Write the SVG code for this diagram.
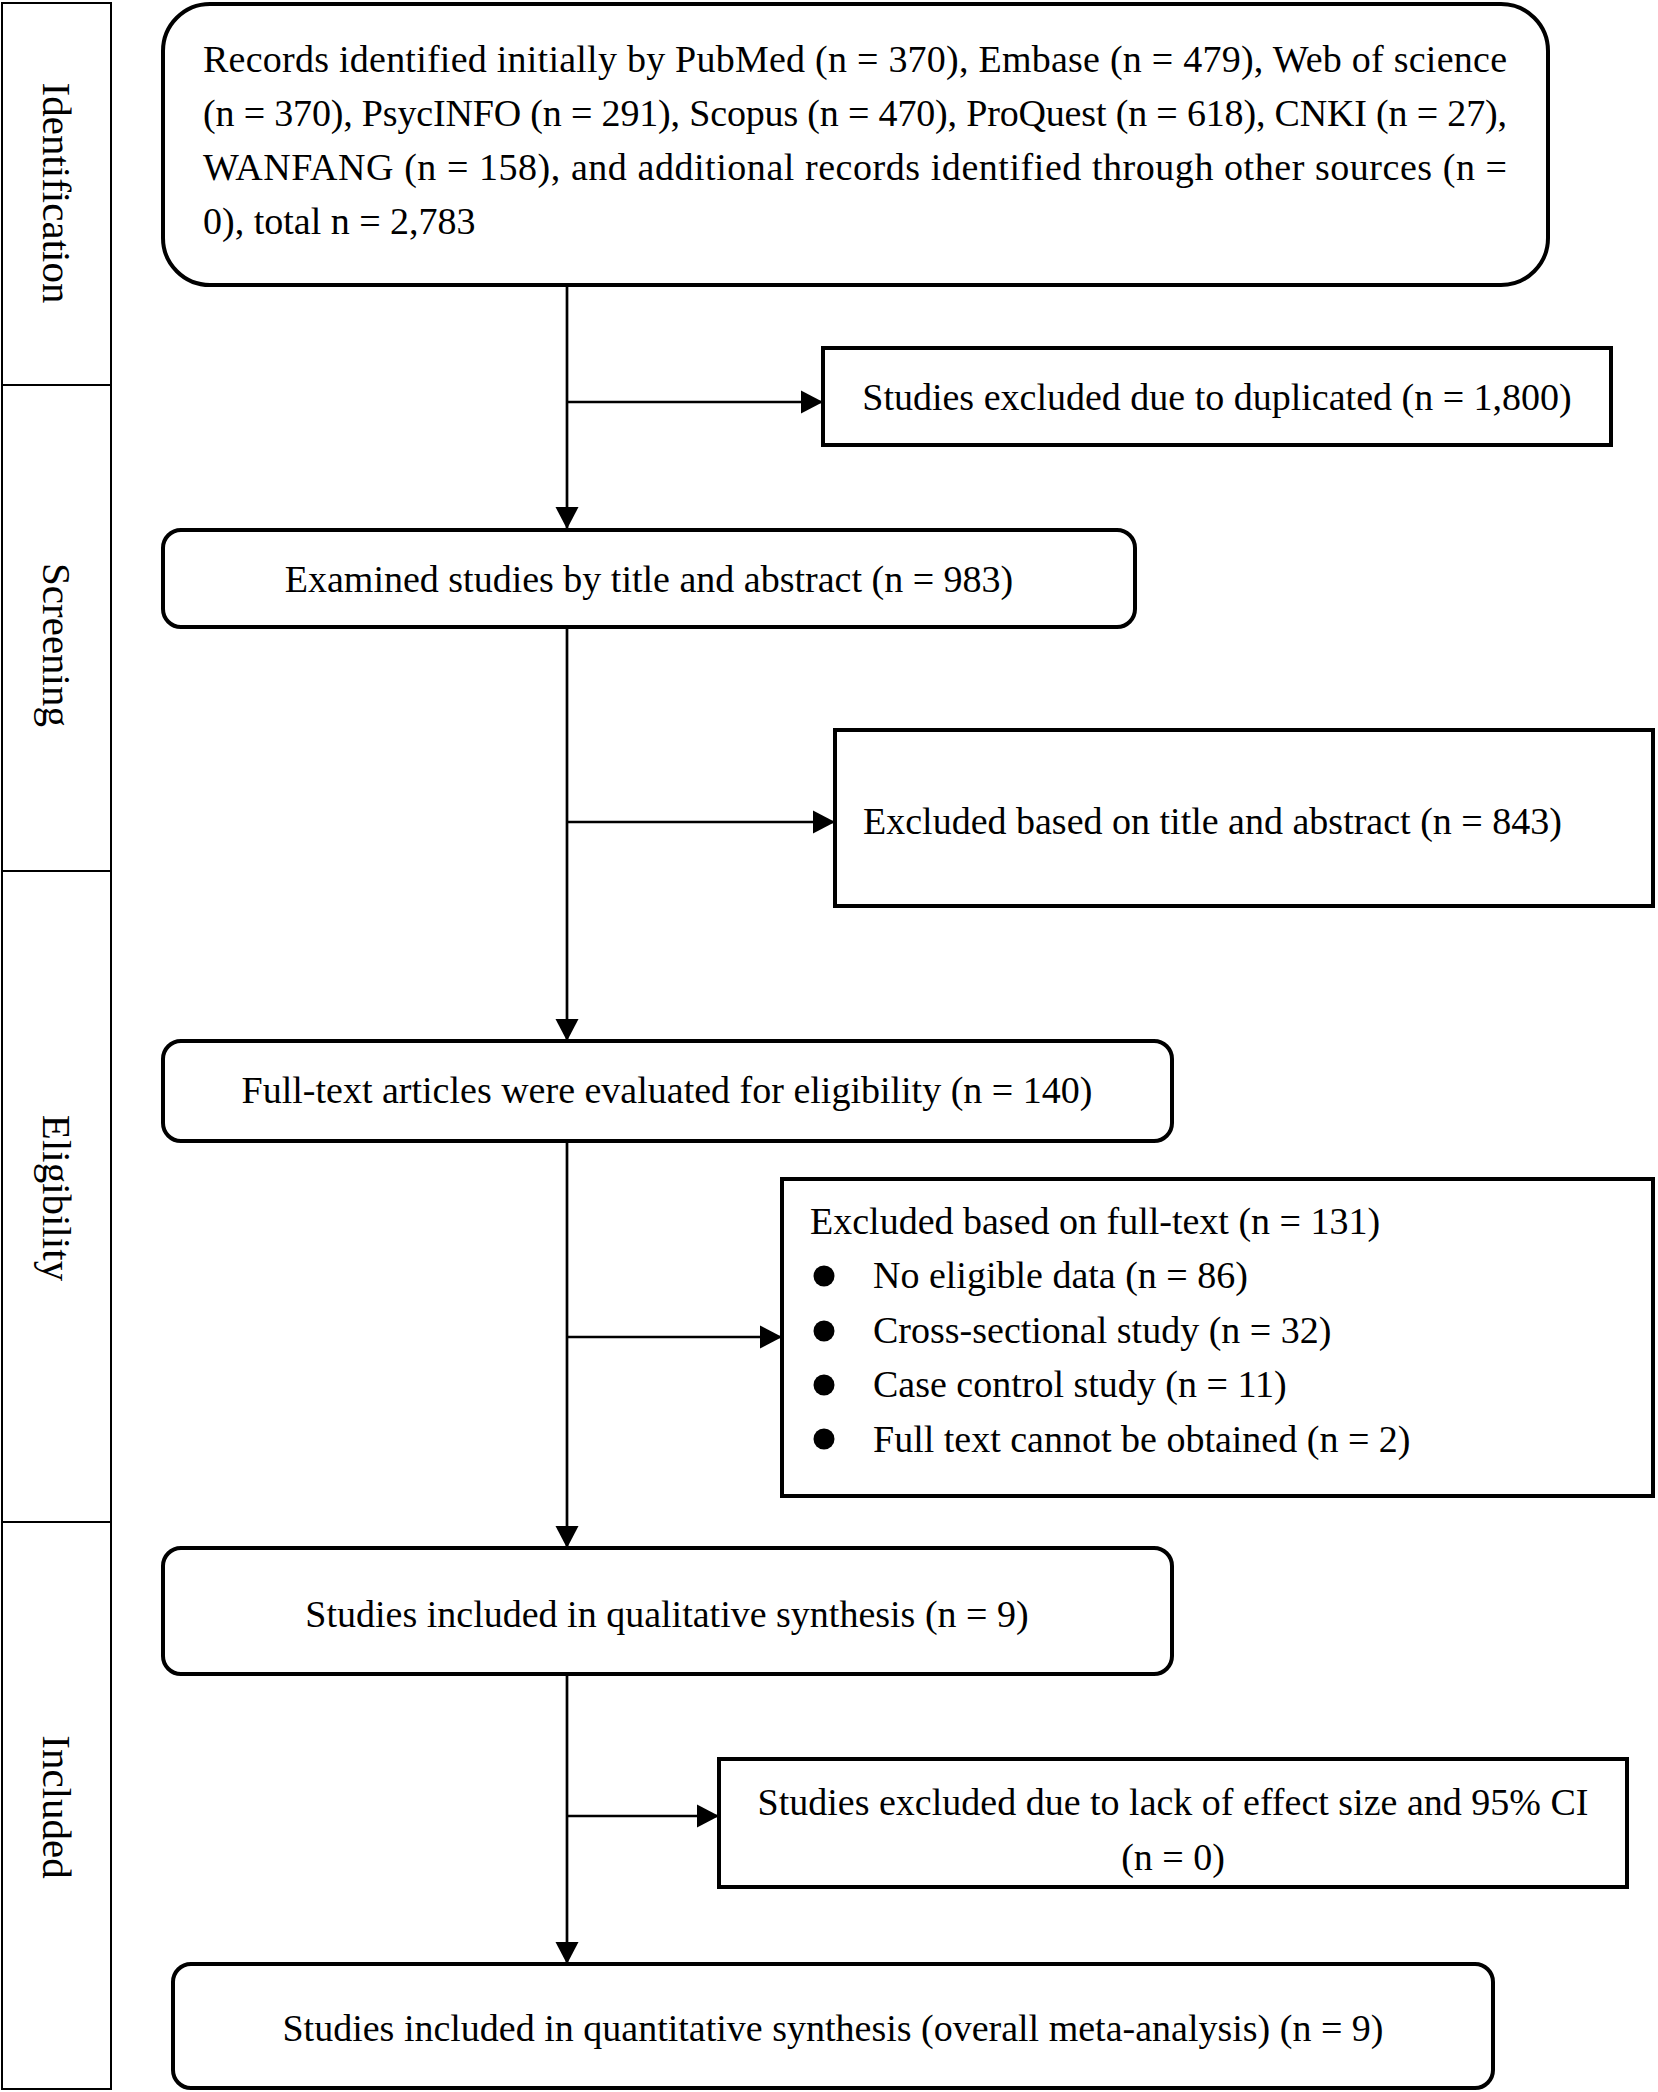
<svg xmlns="http://www.w3.org/2000/svg" width="1658" height="2092" viewBox="0 0 1658 2092">
<style>
.t{font-family:"Liberation Serif","Times New Roman",serif;font-size:38px;fill:#000}
.side{font-family:"Liberation Serif","Times New Roman",serif;font-size:41px;fill:#000;text-anchor:middle}
.c{text-anchor:middle}
.box{fill:#fff;stroke:#000;stroke-width:4}
.sb{fill:#fff;stroke:#000;stroke-width:2}
.ln{fill:none;stroke:#000;stroke-width:2.7}
</style>
<defs>
<marker id="ah" markerUnits="userSpaceOnUse" markerWidth="24" markerHeight="24" refX="22" refY="12" orient="auto" viewBox="0 0 24 24">
<path d="M0,0.5 L22,12 L0,23.5 Z" fill="#000"/>
</marker>
</defs>
<rect width="1658" height="2092" fill="#fff"/>

<g id="stage-identification">
<rect class="sb" x="2" y="3" width="109" height="382"/>
<text class="side" transform="translate(43,193) rotate(90)">Identification</text>
</g>
<g id="stage-screening">
<rect class="sb" x="2" y="385" width="109" height="486"/>
<text class="side" transform="translate(43,645) rotate(90)">Screening</text>
</g>
<g id="stage-eligibility">
<rect class="sb" x="2" y="871" width="109" height="651"/>
<text class="side" transform="translate(43,1198) rotate(90)">Eligibility</text>
</g>
<g id="stage-included">
<rect class="sb" x="2" y="1522" width="109" height="567"/>
<text class="side" transform="translate(43,1807) rotate(90)">Included</text>
</g>

<g id="connectors">
<path class="ln" d="M567,285 V529" marker-end="url(#ah)"/>
<path class="ln" d="M567,402 H823" marker-end="url(#ah)"/>
<path class="ln" d="M567,627 V1041" marker-end="url(#ah)"/>
<path class="ln" d="M567,822 H835" marker-end="url(#ah)"/>
<path class="ln" d="M567,1141 V1548" marker-end="url(#ah)"/>
<path class="ln" d="M567,1337 H782" marker-end="url(#ah)"/>
<path class="ln" d="M567,1674 V1964" marker-end="url(#ah)"/>
<path class="ln" d="M567,1816 H719" marker-end="url(#ah)"/>
</g>

<g id="records-identified">
<rect class="box" x="163" y="4" width="1385" height="281" rx="47" ry="47"/>
<text class="t" x="203" y="72" textLength="1304" lengthAdjust="spacing">Records identified initially by PubMed (n = 370), Embase (n = 479), Web of science</text>
<text class="t" x="203" y="126" textLength="1304" lengthAdjust="spacing">(n = 370), PsycINFO (n = 291), Scopus (n = 470), ProQuest (n = 618), CNKI (n = 27),</text>
<text class="t" x="203" y="180" textLength="1304" lengthAdjust="spacing">WANFANG (n = 158), and additional records identified through other sources (n =</text>
<text class="t" x="203" y="234">0), total n = 2,783</text>
</g>

<g id="excluded-duplicates">
<rect class="box" x="823" y="348" width="788" height="97"/>
<text class="t c" x="1217" y="410">Studies excluded due to duplicated (n = 1,800)</text>
</g>

<g id="examined-title-abstract">
<rect class="box" x="163" y="530" width="972" height="97" rx="18" ry="18"/>
<text class="t c" x="649" y="592">Examined studies by title and abstract (n = 983)</text>
</g>

<g id="excluded-title-abstract">
<rect class="box" x="835" y="730" width="818" height="176"/>
<text class="t" x="863" y="834">Excluded based on title and abstract (n = 843)</text>
</g>

<g id="fulltext-evaluated">
<rect class="box" x="163" y="1041" width="1009" height="100" rx="18" ry="18"/>
<text class="t c" x="667" y="1103">Full-text articles were evaluated for eligibility (n = 140)</text>
</g>

<g id="excluded-fulltext">
<rect class="box" x="782" y="1179" width="871" height="317"/>
<text class="t" x="810" y="1234">Excluded based on full-text (n = 131)</text>
<circle cx="824" cy="1276" r="10.5"/>
<text class="t" x="873" y="1288">No eligible data (n = 86)</text>
<circle cx="824" cy="1331" r="10.5"/>
<text class="t" x="873" y="1343">Cross-sectional study (n = 32)</text>
<circle cx="824" cy="1385" r="10.5"/>
<text class="t" x="873" y="1397">Case control study (n = 11)</text>
<circle cx="824" cy="1439" r="10.5"/>
<text class="t" x="873" y="1452">Full text cannot be obtained (n = 2)</text>
</g>

<g id="qualitative-synthesis">
<rect class="box" x="163" y="1548" width="1009" height="126" rx="18" ry="18"/>
<text class="t c" x="667" y="1627">Studies included in qualitative synthesis (n = 9)</text>
</g>

<g id="excluded-effect-size">
<rect class="box" x="719" y="1759" width="908" height="128"/>
<text class="t c" x="1173" y="1815">Studies excluded due to lack of effect size and 95% CI</text>
<text class="t c" x="1173" y="1870">(n = 0)</text>
</g>

<g id="quantitative-synthesis">
<rect class="box" x="173" y="1964" width="1320" height="124" rx="18" ry="18"/>
<text class="t c" x="833" y="2041">Studies included in quantitative synthesis (overall meta-analysis) (n = 9)</text>
</g>
</svg>
